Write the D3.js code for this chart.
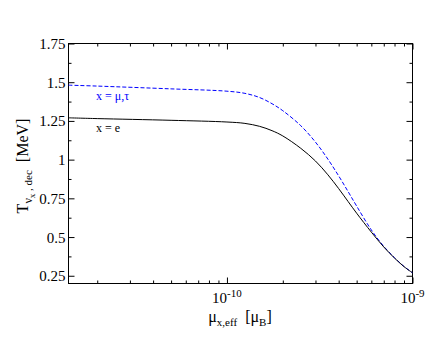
<!DOCTYPE html>
<html><head><meta charset="utf-8">
<script src="https://cdn.jsdelivr.net/npm/d3@7"></script>
<style>body{margin:0;background:#fff}svg{display:block}</style>
</head><body><svg id="c" width="444" height="344"></svg>
<script>
const muValues = [1.4e-11, 2e-11, 5e-11, 1e-10, 1.25e-10, 1.5e-10, 1.75e-10, 2e-10, 2.5e-10, 3e-10, 3.5e-10, 4e-10, 4.5e-10, 5e-10, 6e-10, 7e-10, 8e-10, 9e-10, 1e-9];
const T_e = [1.270, 1.265, 1.254, 1.243, 1.234, 1.215, 1.187, 1.153, 1.073, 0.991, 0.902, 0.813, 0.729, 0.654, 0.532, 0.436, 0.364, 0.309, 0.269];
const T_mutau = [1.481, 1.475, 1.457, 1.442, 1.428, 1.401, 1.361, 1.316, 1.219, 1.113, 1.003, 0.895, 0.793, 0.700, 0.546, 0.440, 0.367, 0.310, 0.269];
const yMajor = [0.25, 0.5, 0.75, 1, 1.25, 1.5, 1.75];
const yMinor = [0.375, 0.625, 0.875, 1.125, 1.375, 1.625];
const xMajor = [1e-10, 1e-9];
const xMajorExp = ["-10", "-9"];
const xMinor = [2e-11,3e-11,4e-11,5e-11,6e-11,7e-11,8e-11,9e-11,2e-10,3e-10,4e-10,5e-10,6e-10,7e-10,8e-10,9e-10];

const FONT = "'Liberation Serif','Times New Roman','DejaVu Serif',serif";
const svg = d3.select("#c").attr("font-family", FONT);
const L = 68.5, R = 412.5, T = 43.5, B = 283.5;
const x = d3.scaleLog().domain([1.4e-11, 1e-9]).range([L, R]);
const y = d3.scaleLinear().domain([0.2, 1.75]).range([B, T]);

function styleAxis(g){ g.attr("font-family", FONT); g.select(".domain").remove(); g.selectAll("line").attr("stroke","#000"); }

svg.append("g").attr("transform",`translate(${L},0)`).call(d3.axisLeft(y).tickValues(yMajor).tickSize(-6).tickFormat(d3.format("")))
  .call(styleAxis).call(g=>g.selectAll("text").attr("x",-3).attr("font-size",15).attr("fill","#000").attr("dy","0.33em").attr("font-family",FONT));
svg.append("g").attr("transform",`translate(${L},0)`).call(d3.axisLeft(y).tickValues(yMinor).tickSize(-3).tickFormat(""))
  .call(styleAxis);
svg.append("g").attr("transform",`translate(${R},0)`).call(d3.axisRight(y).tickValues(yMajor).tickSize(-6).tickFormat(""))
  .call(styleAxis);
svg.append("g").attr("transform",`translate(${R},0)`).call(d3.axisRight(y).tickValues(yMinor).tickSize(-3).tickFormat(""))
  .call(styleAxis);
svg.append("g").attr("transform",`translate(0,${B})`).call(d3.axisBottom(x).tickValues(xMajor).tickSize(-6).tickFormat(""))
  .call(styleAxis);
svg.append("g").attr("transform",`translate(0,${B})`).call(d3.axisBottom(x).tickValues(xMinor).tickSize(-3).tickFormat(""))
  .call(styleAxis);
svg.append("g").attr("transform",`translate(0,${T})`).call(d3.axisTop(x).tickValues(xMajor).tickSize(-6).tickFormat(""))
  .call(styleAxis);
svg.append("g").attr("transform",`translate(0,${T})`).call(d3.axisTop(x).tickValues(xMinor).tickSize(-3).tickFormat(""))
  .call(styleAxis);

xMajor.forEach((v,i)=>{
  const t = svg.append("text").attr("x", x(v)).attr("y", 302.5).attr("text-anchor","middle").attr("font-size",15).attr("fill","#000").attr("font-family",FONT);
  t.append("tspan").text("10");
  t.append("tspan").attr("dy",-6).attr("font-size",11).text(xMajorExp[i]);
});

svg.append("rect").attr("x",L).attr("y",T).attr("width",R-L).attr("height",B-T).attr("fill","none").attr("stroke","#000").attr("stroke-width",1);

const line = d3.line().x((d,i)=>x(muValues[i])).y(d=>y(d)).curve(d3.curveCatmullRom.alpha(0.5));
svg.append("path").attr("d", line(T_mutau)).attr("fill","none").attr("stroke","#0000ff").attr("stroke-width",1).attr("stroke-dasharray","4,2");
svg.append("path").attr("d", line(T_e)).attr("fill","none").attr("stroke","#000").attr("stroke-width",1);

svg.append("text").attr("x",96).attr("y",99.5).attr("font-size",12).attr("fill","#0000ff").attr("font-family",FONT).text("x = μ,τ");
svg.append("text").attr("x",96).attr("y",131.5).attr("font-size",12).attr("fill","#000").attr("font-family",FONT).text("x = e");

const xt = svg.append("text").attr("x",240).attr("y",322).attr("text-anchor","middle").attr("font-size",16).attr("fill","#000").attr("font-family",FONT);
xt.append("tspan").text("μ");
xt.append("tspan").attr("dy",4).attr("font-size",11).text("x,eff");
xt.append("tspan").attr("dy",-4).text("\u00a0 [μ");
xt.append("tspan").attr("dy",4).attr("font-size",11).text("B");
xt.append("tspan").attr("dy",-4).text("]");

const yt = svg.append("text").attr("transform","translate(28,166) rotate(-90)").attr("text-anchor","middle").attr("font-size",16).attr("fill","#000").attr("font-family",FONT);
yt.append("tspan").text("T");
yt.append("tspan").attr("dy",4).attr("font-size",12).text("ν");
yt.append("tspan").attr("dy",3).attr("font-size",9).text("x");
yt.append("tspan").attr("dy",-3).attr("font-size",11).text(" , dec");
yt.append("tspan").attr("dy",-4).text("\u00a0 [MeV]");
</script></body></html>
